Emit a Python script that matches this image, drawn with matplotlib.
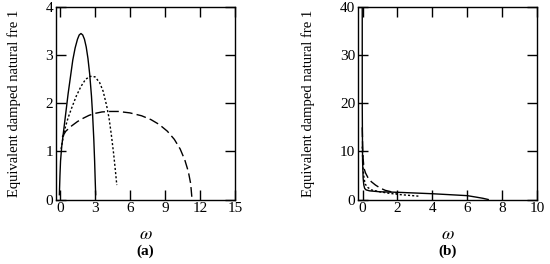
import numpy as np
import matplotlib.pyplot as plt

plt.rcParams['font.family'] = ['Liberation Serif', 'DejaVu Serif']
plt.rcParams['mathtext.fontset'] = 'stix'

# panel (a)
a_solid_w = [-0.05, 0.0, 0.05, 0.15, 0.3, 0.5, 0.7, 0.9, 1.1, 1.3, 1.5, 1.65, 1.8,
             1.95, 2.1, 2.25, 2.4, 2.55, 2.7, 2.8, 2.9, 2.97, 3.02, 3.06]
a_solid_y = [0.1, 0.5, 0.8, 1.1, 1.4, 1.8, 2.2, 2.55, 2.9, 3.15, 3.33, 3.42, 3.45,
             3.42, 3.33, 3.17, 2.93, 2.6, 2.15, 1.75, 1.25, 0.8, 0.4, 0.1]
a_dot_w = [0.1, 0.2, 0.4, 0.7, 1.0, 1.4, 1.8, 2.2, 2.6, 3.0, 3.4, 3.7, 4.0,
           4.2, 4.4, 4.6, 4.75, 4.87]
a_dot_y = [1.05, 1.2, 1.45, 1.7, 1.9, 2.15, 2.35, 2.5, 2.56, 2.55, 2.43, 2.25, 1.95,
           1.7, 1.35, 0.95, 0.6, 0.3]
a_dash_w = [0.2, 0.5, 1.0, 1.5, 2.0, 2.5, 3.0, 3.6, 4.3, 5.0, 6.0, 7.0, 7.8, 8.5,
            9.2, 9.8, 10.3, 10.7, 11.0, 11.2, 11.3]
a_dash_y = [1.3, 1.42, 1.53, 1.62, 1.69, 1.75, 1.79, 1.82, 1.83, 1.83, 1.8, 1.74,
            1.66, 1.56, 1.42, 1.25, 1.05, 0.82, 0.58, 0.33, 0.05]

# panel (b)
b_solid_w = [-0.02, -0.02, 0.0, 0.03, 0.07, 0.12, 0.2, 0.4, 1.0, 2.0, 3.0, 4.0,
             5.0, 6.0, 6.5, 6.9, 7.2]
b_solid_y = [40.0, 20.0, 8.0, 4.5, 3.0, 2.3, 2.0, 1.8, 1.6, 1.5, 1.35, 1.2,
             1.0, 0.8, 0.5, 0.25, 0.0]
b_dash_w = [-0.02, 0.0, 0.03, 0.08, 0.17, 0.3, 0.5, 0.74, 1.0, 1.3, 2.0]
b_dash_y = [15.0, 11.5, 8.5, 6.5, 5.5, 4.6, 3.7, 3.0, 2.4, 1.9, 1.3]
b_dot_w = [-0.02, 0.0, 0.03, 0.08, 0.15, 0.3, 0.5, 1.0, 1.5, 2.2, 3.2]
b_dot_y = [11.0, 9.0, 6.5, 4.5, 3.2, 2.5, 2.0, 1.6, 1.3, 1.0, 0.7]

fig = plt.figure(figsize=(5.5, 2.64), dpi=100)
ax1 = fig.add_axes([0.1018, 0.2443, 0.3255, 0.729])
ax2 = fig.add_axes([0.651, 0.2443, 0.3255, 0.729])

lw = 1.0
ax1.plot(a_solid_w, a_solid_y, 'k-', lw=lw)
ax1.plot(a_dot_w, a_dot_y, 'k', lw=lw, dashes=(1.5, 1.5))
ax1.plot(a_dash_w, a_dash_y, 'k', lw=lw, dashes=(7, 3))
ax1.set_xlim(-0.34, 15)
ax1.set_ylim(0, 4)
ax1.set_xticks([0, 3, 6, 9, 12, 15])
ax1.set_yticks([0, 1, 2, 3, 4])

ax2.plot(b_solid_w, b_solid_y, 'k-', lw=lw)
ax2.plot(b_dot_w, b_dot_y, 'k', lw=lw, dashes=(1.5, 1.5))
ax2.plot(b_dash_w, b_dash_y, 'k', lw=lw, dashes=(7, 3))
ax2.set_xlim(-0.26, 10)
ax2.set_ylim(0, 40)
ax2.set_xticks([0, 2, 4, 6, 8, 10])
ax2.set_yticks([0, 10, 20, 30, 40])

for ax, tag in [(ax1, '(a)'), (ax2, '(b)')]:
    ax.tick_params(direction='in', length=7, width=1, top=True, right=True,
                   labelsize=11, pad=2)
    for s in ax.spines.values():
        s.set_linewidth(1)
    ax.set_ylabel('Equivalent damped natural fre 1', fontsize=10.5, labelpad=18)
    ax.set_xlabel(r'$\omega$', fontsize=13, labelpad=8)
    ax.text(0.5, -0.27, tag, transform=ax.transAxes, ha='center', va='center',
            fontsize=11, fontweight='bold')

fig.savefig('out.png', dpi=100)
